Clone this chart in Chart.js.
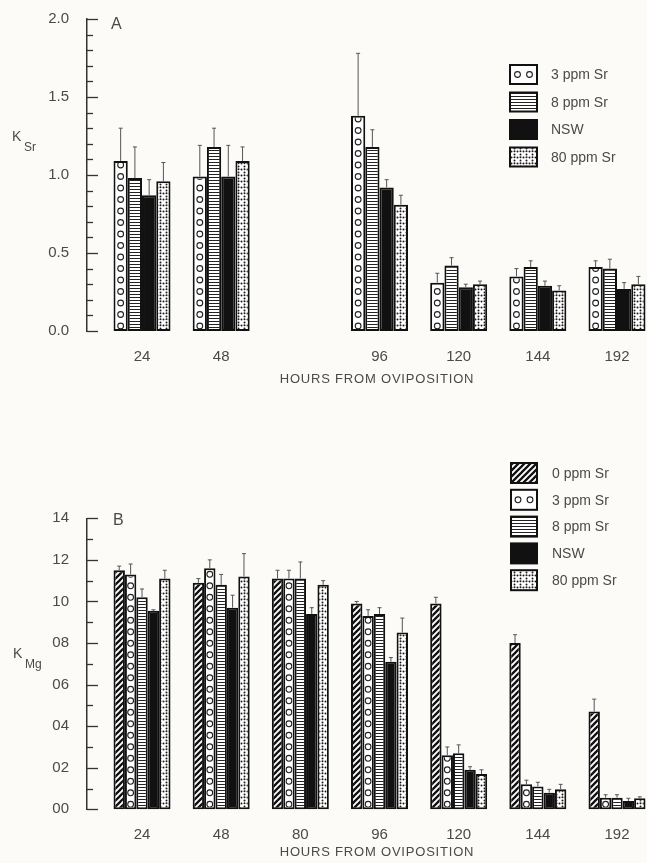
<!DOCTYPE html>
<html>
<head>
<meta charset="utf-8">
<script src="https://cdn.jsdelivr.net/npm/chart.js@4.4.1/dist/chart.umd.min.js"></script>
<style>
  body { margin: 0; background: #fcfbf8; }
  canvas { display: block; }
</style>
</head>
<body>
<canvas id="chartA" width="647" height="400"></canvas>
<canvas id="chartB" width="647" height="463"></canvas>
<script>
// panel A - K Sr
const hoursA = ['24', '48', '', '96', '120', '144', '192'];
const sr3A   = [1.09, 0.99, null, 1.38, 0.31, 0.35, 0.41];
const sr3AE  = [1.30, 1.19, null, 1.78, 0.37, 0.40, 0.45];
const sr8A   = [0.98, 1.18, null, 1.18, 0.42, 0.41, 0.40];
const sr8AE  = [1.18, 1.30, null, 1.29, 0.47, 0.45, 0.46];
const nswA   = [0.87, 0.99, null, 0.92, 0.28, 0.29, 0.27];
const nswAE  = [0.97, 1.19, null, 0.97, 0.30, 0.32, 0.31];
const sr80A  = [0.96, 1.09, null, 0.81, 0.30, 0.26, 0.30];
const sr80AE = [1.08, 1.18, null, 0.87, 0.32, 0.29, 0.35];

// panel B - K Mg
const hoursB = ['24', '48', '80', '96', '120', '144', '192'];
const sr0B   = [1.15, 1.09, 1.11, 0.99, 0.99, 0.80, 0.47];
const sr0BE  = [1.17, 1.11, 1.15, 1.00, 1.02, 0.84, 0.53];
const sr3B   = [1.13, 1.16, 1.11, 0.93, 0.26, 0.12, 0.056];
const sr3BE  = [1.18, 1.20, 1.15, 0.96, 0.30, 0.14, 0.07];
const sr8B   = [1.02, 1.08, 1.11, 0.94, 0.27, 0.11, 0.056];
const sr8BE  = [1.06, 1.13, 1.19, 0.97, 0.31, 0.13, 0.07];
const nswB   = [0.955, 0.97, 0.94, 0.71, 0.19, 0.08, 0.04];
const nswBE  = [0.96, 1.03, 0.97, 0.73, 0.205, 0.096, 0.053];
const sr80B  = [1.11, 1.12, 1.08, 0.85, 0.17, 0.096, 0.053];
const sr80BE = [1.15, 1.23, 1.10, 0.92, 0.19, 0.12, 0.06];

const FONT = "'Liberation Sans', Arial, sans-serif";
const INK = '#4a4a4a';

function tile(w, h, draw) {
  const c = document.createElement('canvas');
  c.width = w; c.height = h;
  const g = c.getContext('2d');
  g.fillStyle = '#fff';
  g.fillRect(0, 0, w, h);
  draw(g);
  return g.createPattern(c, 'repeat');
}

const hatch = tile(6, 6, g => {
  g.strokeStyle = '#111';
  g.lineWidth = 2.3;
  g.beginPath();
  g.moveTo(-1, 7); g.lineTo(7, -1);
  g.moveTo(-1, 1); g.lineTo(1, -1);
  g.moveTo(5, 7); g.lineTo(7, 5);
  g.stroke();
});
const lines = tile(4, 3, g => {
  g.fillStyle = '#222';
  g.fillRect(0, 0, 4, 1);
});
const dots = tile(6, 6, g => {
  g.fillStyle = '#1a1a1a';
  [[1.5, 1.5], [4.5, 4.5], [4.5, 1.2]].forEach(([px, py]) => {
    g.beginPath(); g.arc(px, py, 1.0, 0, Math.PI * 2); g.fill();
  });
});

function series(label, vals, errs, fill, circles) {
  return {
    label,
    data: vals.map((v, i) => ({ x: i, y: v })),
    errTop: errs,
    circles: !!circles,
    backgroundColor: fill,
    borderColor: '#111',
    borderWidth: 2,
    borderSkipped: false,
    clip: false
  };
}

const decor = {
  id: 'decor',
  afterDatasetsDraw(chart) {
    const { ctx } = chart;
    const yS = chart.scales.y;
    chart.data.datasets.forEach((ds, di) => {
      const meta = chart.getDatasetMeta(di);
      meta.data.forEach((bar, i) => {
        if (ds.data[i].y == null) return;
        const { x, y, base, width } = bar.getProps(['x', 'y', 'base', 'width'], true);
        if (ds.circles) {
          ctx.save();
          ctx.beginPath();
          ctx.rect(x - width / 2 + 2, y + 2, width - 4, base - y - 4);
          ctx.clip();
          ctx.strokeStyle = '#222';
          ctx.lineWidth = 1.1;
          for (let cy = base - 5; cy > y - 3; cy -= 11.5) {
            ctx.beginPath();
            ctx.arc(x, cy, 2.9, 0, Math.PI * 2);
            ctx.stroke();
          }
          ctx.restore();
        }
        const ey = yS.getPixelForValue(ds.errTop[i]);
        ctx.save();
        ctx.strokeStyle = '#555';
        ctx.lineWidth = 1;
        ctx.beginPath();
        ctx.moveTo(x, y);
        ctx.lineTo(x, ey);
        ctx.moveTo(x - 2, ey);
        ctx.lineTo(x + 2, ey);
        ctx.stroke();
        ctx.restore();
      });
    });
  },
  afterDraw(chart, args, o) {
    const { ctx, chartArea } = chart;
    const yS = chart.scales.y;
    ctx.save();
    // inward tick marks
    ctx.strokeStyle = '#333';
    ctx.lineWidth = 1.3;
    yS.ticks.forEach(t => {
      const py = Math.round(yS.getPixelForValue(t.value)) + 0.5;
      const len = t.label !== '' ? 11 : 6;
      ctx.beginPath();
      ctx.moveTo(chartArea.left, py);
      ctx.lineTo(chartArea.left + len, py);
      ctx.stroke();
    });
    ctx.fillStyle = INK;
    ctx.textBaseline = 'alphabetic';
    ctx.textAlign = 'left';
    // panel letter
    ctx.font = '16px ' + FONT;
    ctx.fillText(o.letter, o.letterX, o.letterY);
    // axis title K with subscript
    ctx.font = '14px ' + FONT;
    ctx.fillText('K', o.kX, o.kY);
    ctx.font = '12px ' + FONT;
    ctx.fillText(o.sub, o.kX + 12, o.kY + 10);
    // x title
    ctx.font = '13px ' + FONT;
    ctx.letterSpacing = '0.8px';
    ctx.textAlign = 'center';
    ctx.textBaseline = 'middle';
    ctx.fillText('HOURS FROM OVIPOSITION', o.titleX, o.titleY);
    ctx.letterSpacing = '0px';
    // legend
    ctx.textAlign = 'left';
    ctx.font = '14px ' + FONT;
    chart.data.datasets.forEach((ds, i) => {
      const top = o.legY + i * o.legPitch;
      ctx.fillStyle = ds.backgroundColor;
      ctx.fillRect(o.legX, top, o.legW, o.legH);
      ctx.strokeStyle = '#111';
      ctx.lineWidth = 2;
      ctx.strokeRect(o.legX, top, o.legW, o.legH);
      if (ds.circles) {
        ctx.lineWidth = 1.1;
        ctx.strokeStyle = '#222';
        [-6, 6].forEach(dx => {
          ctx.beginPath();
          ctx.arc(o.legX + o.legW / 2 + dx, top + o.legH / 2, 2.9, 0, Math.PI * 2);
          ctx.stroke();
        });
      }
      ctx.fillStyle = INK;
      ctx.fillText(ds.label, o.legX + 41, top + o.legH / 2 + 1);
    });
    ctx.restore();
  }
};

function makeChart(id, cats, datasets, yMax, yLabel, padTop, xHeight, deco) {
  return new Chart(document.getElementById(id), {
    type: 'bar',
    data: { datasets },
    plugins: [decor],
    options: {
      responsive: false,
      animation: false,
      layout: { padding: { top: padTop, right: 0, left: 0, bottom: 0 } },
      datasets: { bar: { categoryPercentage: 0.72, barPercentage: 1.0 } },
      plugins: { legend: { display: false }, tooltip: { enabled: false }, decor: deco },
      scales: {
        x: {
          type: 'linear',
          min: -0.695,
          max: 6.379,
          offset: false,
          grid: { display: false },
          border: { display: false },
          afterBuildTicks: s => { s.ticks = cats.map((c, i) => ({ value: i })); },
          afterFit: s => { s.height = xHeight; },
          ticks: {
            autoSkip: false,
            maxRotation: 0,
            padding: 9,
            color: INK,
            font: { family: FONT, size: 15 },
            callback: v => cats[v] ?? ''
          }
        },
        y: {
          min: 0,
          max: yMax,
          grid: { display: false },
          border: { display: true, color: '#333', width: 1.5 },
          afterFit: s => { s.width = 87; },
          ticks: {
            stepSize: 0.1,
            autoSkip: false,
            padding: 10,
            color: INK,
            font: { family: FONT, size: 15 },
            callback: yLabel
          }
        }
      }
    }
  });
}

makeChart('chartA', hoursA, [
  series('3 ppm Sr', sr3A, sr3AE, '#fff', true),
  series('8 ppm Sr', sr8A, sr8AE, lines),
  series('NSW', nswA, nswAE, '#111'),
  series('80 ppm Sr', sr80A, sr80AE, dots)
], 2.0, v => {
  const n = Math.round(v * 10);
  return n % 5 === 0 ? (n / 10).toFixed(1) : '';
}, 17, 69, {
  letter: 'A', letterX: 111, letterY: 29,
  sub: 'Sr', kX: 12, kY: 141,
  titleX: 377, titleY: 379,
  legX: 510, legY: 65, legPitch: 27.5, legW: 27, legH: 19
});

makeChart('chartB', hoursB, [
  series('0 ppm Sr', sr0B, sr0BE, hatch),
  series('3 ppm Sr', sr3B, sr3BE, '#fff', true),
  series('8 ppm Sr', sr8B, sr8BE, lines),
  series('NSW', nswB, nswBE, '#111'),
  series('80 ppm Sr', sr80B, sr80BE, dots)
], 1.4, v => {
  const n = Math.round(v * 10);
  return n % 2 === 0 ? String(n).padStart(2, '0') : '';
}, 118.3, 53.7, {
  letter: 'B', letterX: 113, letterY: 125,
  sub: 'Mg', kX: 13, kY: 258,
  titleX: 377, titleY: 452,
  legX: 511, legY: 63, legPitch: 26.8, legW: 26, legH: 20
});
</script>
</body>
</html>
